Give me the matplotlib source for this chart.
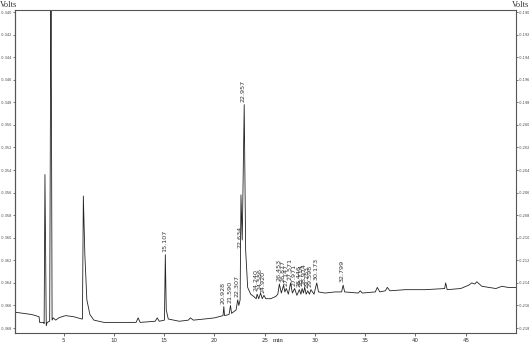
import numpy as np
import matplotlib
matplotlib.use("Agg")
import matplotlib.pyplot as plt
from matplotlib.ticker import FuncFormatter

plt.rcParams['axes.unicode_minus'] = False

# Trazo del cromatograma (tiempo en min, señal en voltios del eje derecho)
tiempos = [0.15, 1.0, 1.8, 2.2, 2.55, 2.6, 3.0, 3.05, 3.13, 3.26, 3.35, 3.6, 3.73, 3.84,
           3.95, 4.2, 4.5, 4.8, 5.2, 6.0, 6.8, 6.86, 6.95, 7.1, 7.3, 7.6, 8.0, 9.0, 10.5,
           12.2, 12.4, 12.6, 14.1, 14.3, 14.5, 15.02, 15.107, 15.2, 15.4, 16.5, 17.4, 17.6,
           17.9, 19.0, 20.0, 20.85, 20.928, 21.0, 21.45, 21.59, 21.7, 22.15, 22.307, 22.42,
           22.55, 22.634, 22.76, 22.957, 23.1, 23.3, 23.6, 23.9, 24.15, 24.24, 24.4, 24.586,
           24.75, 24.92, 25.1, 25.6, 26.1, 26.3, 26.453, 26.65, 26.877, 27.0, 27.147, 27.35,
           27.571, 27.75, 27.971, 28.2, 28.446, 28.6, 28.714, 28.85, 28.974, 29.12, 29.283,
           29.45, 29.598, 29.9, 30.173, 30.35, 31.0, 32.0, 32.65, 32.799, 32.95, 34.3, 34.5,
           34.7, 36.0, 36.2, 36.45, 37.0, 37.2, 37.45, 39.0, 41.0, 42.9, 43.0, 43.15, 44.5,
           45.3, 45.6, 45.9, 46.1, 46.6, 47.3, 48.0, 48.6, 49.2, 50.0]
senal = [-0.2166, -0.2167, -0.2168, -0.2169, -0.2170, -0.2175, -0.2175, -0.2176, -0.2044,
         -0.2178, -0.2175, -0.2174, -0.1850, -0.2173, -0.2171, -0.2173, -0.2171, -0.2170,
         -0.2169, -0.2170, -0.2172, -0.2172, -0.2063, -0.2115, -0.2155, -0.2168, -0.2173,
         -0.2175, -0.2175, -0.2175, -0.2171, -0.2175, -0.2174, -0.2171, -0.2174, -0.2173,
         -0.2115, -0.2164, -0.2172, -0.2174, -0.2173, -0.2171, -0.2173, -0.2172, -0.2171,
         -0.2169, -0.2161, -0.2169, -0.2168, -0.2160, -0.2167, -0.2164, -0.2155, -0.2160,
         -0.2155, -0.2062, -0.2102, -0.1982, -0.2111, -0.2144, -0.2150, -0.2152, -0.2154,
         -0.2150, -0.2154, -0.2149, -0.2154, -0.2151, -0.2154, -0.2154, -0.2152, -0.2150,
         -0.2141, -0.2149, -0.2142, -0.2148, -0.2145, -0.2150, -0.2140, -0.2149, -0.2145,
         -0.2151, -0.2146, -0.2150, -0.2145, -0.2149, -0.2144, -0.2150, -0.2147, -0.2150,
         -0.2146, -0.2150, -0.2140, -0.2148, -0.2149, -0.2148, -0.2148, -0.2142, -0.2148,
         -0.2149, -0.2147, -0.2149, -0.2148, -0.2144, -0.2148, -0.2147, -0.2144, -0.2147,
         -0.2146, -0.2146, -0.2145, -0.2140, -0.2146, -0.2145, -0.2142, -0.2140, -0.2141,
         -0.2139, -0.2143, -0.2144, -0.2145, -0.2143, -0.2144, -0.2144]

# Tiempos de retención etiquetados
picos = [15.107, 20.928, 21.590, 22.307, 22.634, 22.957, 24.240, 24.586, 24.920,
         26.453, 26.877, 27.147, 27.571, 27.971, 28.446, 28.714, 28.974, 29.283,
         29.598, 30.173, 32.799]

# Ejes
ticks_x = [5, 10, 15, 20, 25, 30, 35, 40, 45]
ticks_der = [-0.218, -0.216, -0.214, -0.212, -0.210, -0.208, -0.206, -0.204,
             -0.202, -0.200, -0.198, -0.196, -0.194, -0.192, -0.190]
desfase_izq = -0.150
ticks_izq = [-0.368, -0.366, -0.364, -0.362, -0.360, -0.358, -0.356, -0.354,
             -0.352, -0.350, -0.348, -0.346, -0.344, -0.342, -0.340]

W, H = 529, 344
fig = plt.figure(figsize=(W / 100, H / 100), dpi=100)
ax = fig.add_axes([15 / W, 11 / H, 501 / W, 323 / H])

ax.plot(tiempos, senal, color='#222222', lw=0.6)
ax.set_xlim(0.15, 50.0)
ax.set_ylim(-0.21844, -0.18982)

for s in ax.spines.values():
    s.set_color('#555555')
    s.set_linewidth(0.8)

coma = FuncFormatter(lambda v, _: f"{v:.3f}".replace('.', ','))

ax.set_xticks(ticks_x)
ax.tick_params(axis='x', labelsize=4, length=2, width=0.5, pad=1.5, colors='#333333')

ax.yaxis.tick_right()
ax.set_yticks(ticks_der)
ax.yaxis.set_major_formatter(coma)
ax.tick_params(axis='y', labelsize=2.5, length=1.5, width=0.5, pad=0.5, colors='#444444')

izq = ax.secondary_yaxis('left', functions=(lambda v: v + desfase_izq, lambda v: v - desfase_izq))
izq.set_yticks(ticks_izq)
izq.yaxis.set_major_formatter(coma)
izq.tick_params(labelsize=2.5, length=1.5, width=0.5, pad=0.5, colors='#444444')
izq.spines['left'].set_color('#555555')

# Etiquetas de los picos
for t in picos:
    altura = np.interp(t, tiempos, senal)
    dy = 2
    if abs(t - 22.634) < 1e-6:
        dy = -38
    ax.annotate(f"{t:.3f}", (t, altura), xytext=(-0.5, dy), textcoords='offset points',
                rotation=90, ha='center', va='bottom', fontsize=4.6, color='#333333')

fig.text(0.0, 1 - 1 / H, 'Volts', ha='left', va='top', fontsize=6,
         family='Liberation Serif', color='#333333')
fig.text(1.0, 1 - 1 / H, 'Volts', ha='right', va='top', fontsize=6,
         family='Liberation Serif', color='#333333')
fig.text(278 / W, 1 - 341 / H, 'min', ha='center', va='center', fontsize=5,
         family='Liberation Serif', color='#333333')

fig.savefig('out.png', dpi=100)
